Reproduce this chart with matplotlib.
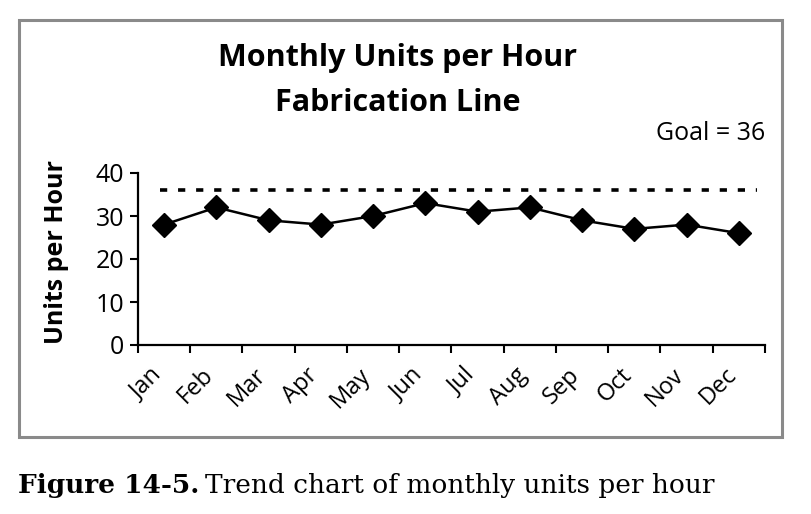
import matplotlib
matplotlib.use("Agg")
import matplotlib.pyplot as plt
from matplotlib.patches import Rectangle
import numpy as np

months = ["Jan", "Feb", "Mar", "Apr", "May", "Jun", "Jul", "Aug", "Sep", "Oct", "Nov", "Dec"]
units = [28, 32, 29, 28, 30, 33, 31, 32, 29, 27, 28, 26]
goal = 36
yticks = [0, 10, 20, 30, 40]

W, H = 812, 514
fig = plt.figure(figsize=(W / 100, H / 100), dpi=100)
fig.patch.set_facecolor("white")

def fx(px):
    return px / W

def fy(py):
    return 1 - py / H

# frame box
fig.patches.append(Rectangle((fx(19), fy(437)), fx(782) - fx(19), fy(20) - fy(437),
                             transform=fig.transFigure, fill=False, edgecolor="#8a8a8a",
                             linewidth=2.2))

ax = fig.add_axes([fx(138), fy(345), fx(765) - fx(138), fy(173) - fy(345)])
font = "Open Sans"
x = np.arange(len(months)) + 0.5
ax.plot(x, units, color="black", linewidth=1.8, marker="D", markersize=12,
        markerfacecolor="black", markeredgecolor="black")
ax.plot([0.42, 11.85], [goal, goal], color="black", linewidth=2.6,
        linestyle=(0, (2.0, 3.0)))

ax.set_xlim(0, len(months))
ax.set_ylim(0, 40)
ax.set_yticks(yticks)
ax.set_yticklabels([str(t) for t in yticks], fontsize=18, family=font)
ax.set_xticks(np.arange(len(months) + 1))
ax.set_xticklabels([])
# label anchors sit slightly left of each category centre, as in the reference
ax.set_xticks(x - 0.28, minor=True)
ax.set_xticklabels(months, minor=True, rotation=45, ha="right", va="top",
                   rotation_mode="anchor", fontsize=17, family=font)
ax.tick_params(axis="x", which="minor", length=0, pad=13)
ax.tick_params(axis="x", which="major", length=6, width=1.5, direction="out")
ax.tick_params(axis="y", length=6, width=1.5, direction="out", pad=4)
for s in ["top", "right"]:
    ax.spines[s].set_visible(False)
for s in ["left", "bottom"]:
    ax.spines[s].set_linewidth(1.6)

fig.text(fx(57), fy(252), "Units per Hour", rotation=90, ha="center", va="center",
         fontsize=18, fontweight="bold", family=font)

fig.text(fx(398), fy(58), "Monthly Units per Hour", ha="center", va="center",
         fontsize=22, fontweight="bold", family=font)
fig.text(fx(398), fy(103), "Fabrication Line", ha="center", va="center",
         fontsize=22, fontweight="bold", family=font)
fig.text(fx(765), fy(133), "Goal = 36", ha="right", va="center", fontsize=18, family=font)

t1 = fig.text(fx(18), fy(485), "Figure 14-5.", ha="left", va="center", fontsize=19,
              fontweight="bold", family="DejaVu Serif")
fig.canvas.draw()
bb = t1.get_window_extent()
fig.text(bb.x1 / W + fx(6), fy(485), "Trend chart of monthly units per hour", ha="left",
         va="center", fontsize=19, family="DejaVu Serif")

fig.savefig("out.png", dpi=100)
